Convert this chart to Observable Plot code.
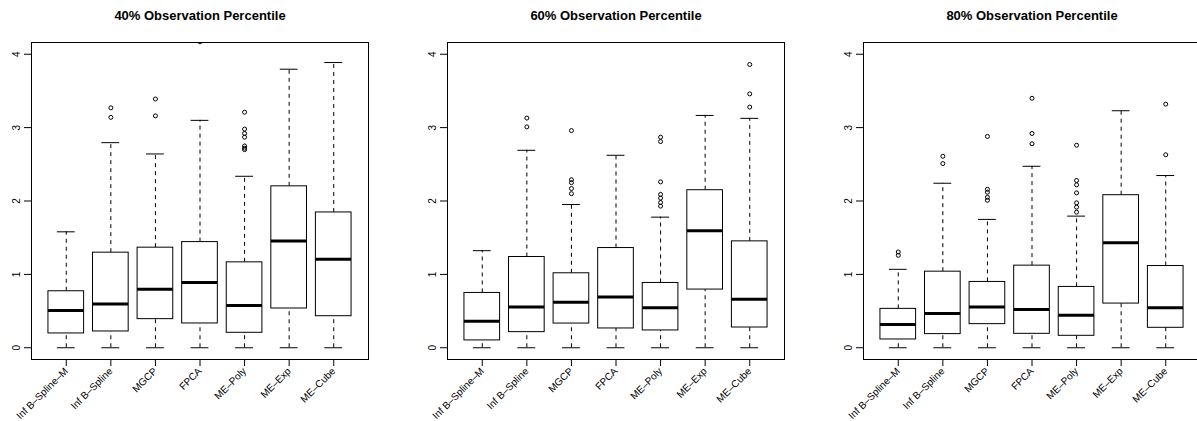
<!DOCTYPE html>
<html>
<head>
<meta charset="utf-8">
<script src="https://cdn.jsdelivr.net/npm/d3@7"></script>
<script src="https://cdn.jsdelivr.net/npm/@observablehq/plot@0.6"></script>
<style>
  html, body { margin: 0; padding: 0; background: #fff; }
  #row { width: 1197px; height: 421px; overflow: hidden; display: flex; flex-wrap: nowrap; }
  #row svg { flex: 0 0 auto; }
</style>
</head>
<body>
<div id="row"></div>
<script>
// Methods compared in every panel
const methods = ["Inf B–Spline–M", "Inf B–Spline", "MGCP", "FPCA", "ME–Poly", "ME–Exp", "ME–Cube"];
const yTicks = [0, 1, 2, 3, 4];

// 40% observation percentile: five-number summaries and outliers
const p40Title = "40% Observation Percentile";
const p40Low = [0, 0, 0, 0, 0, 0, 0];
const p40Q1 = [0.195, 0.222, 0.39, 0.331, 0.204, 0.535, 0.43];
const p40Median = [0.507, 0.598, 0.797, 0.888, 0.575, 1.454, 1.205];
const p40Q3 = [0.77, 1.296, 1.364, 1.44, 1.164, 2.2, 1.844];
const p40High = [1.58, 2.795, 2.641, 3.099, 2.337, 3.796, 3.887];
const p40Out = [[], [3.27, 3.14], [3.39, 3.16], [4.17], [3.21, 2.98, 2.92, 2.87, 2.75, 2.72, 2.70], [], []];

// 60% observation percentile
const p60Title = "60% Observation Percentile";
const p60Low = [0, 0, 0, 0, 0, 0, 0];
const p60Q1 = [0.10, 0.213, 0.33, 0.263, 0.236, 0.793, 0.276];
const p60Median = [0.362, 0.557, 0.62, 0.693, 0.544, 1.595, 0.661];
const p60Q3 = [0.747, 1.237, 1.015, 1.359, 0.883, 2.147, 1.45];
const p60High = [1.323, 2.691, 1.952, 2.623, 1.78, 3.166, 3.126];
const p60Out = [[], [3.13, 3.01], [2.96, 2.29, 2.25, 2.17, 2.10], [], [2.87, 2.81, 2.26, 2.09, 2.04, 1.98, 1.93], [], [3.86, 3.46, 3.28]];

// 80% observation percentile
const p80Title = "80% Observation Percentile";
const p80Low = [0, 0, 0, 0, 0, 0, 0];
const p80Q1 = [0.113, 0.186, 0.322, 0.19, 0.163, 0.602, 0.272];
const p80Median = [0.317, 0.467, 0.557, 0.521, 0.444, 1.431, 0.544];
const p80Q3 = [0.53, 1.037, 0.897, 1.119, 0.829, 2.079, 1.114];
const p80High = [1.069, 2.242, 1.749, 2.473, 1.794, 3.23, 2.347];
const p80Out = [[1.305, 1.26], [2.61, 2.51], [2.88, 2.16, 2.12, 2.05, 2.01], [3.40, 2.92, 2.78], [2.76, 2.28, 2.22, 2.11, 1.975, 1.916, 1.848], [], [3.32, 2.63]];

const panels = [
  {title: p40Title, low: p40Low, q1: p40Q1, median: p40Median, q3: p40Q3, high: p40High, out: p40Out},
  {title: p60Title, low: p60Low, q1: p60Q1, median: p60Median, q3: p60Q3, high: p60High, out: p60Out},
  {title: p80Title, low: p80Low, q1: p80Q1, median: p80Median, q3: p80Q3, high: p80High, out: p80Out}
];

const boxHalf = 0.4;    // half box width, in category units
const capHalf = 0.2;    // half whisker-cap width

function boxPanel(p) {
  const boxes = methods.map((m, i) => ({
    pos: i + 1, low: p.low[i], q1: p.q1[i], median: p.median[i], q3: p.q3[i], high: p.high[i]
  }));
  const outliers = p.out.flatMap((vals, i) => vals.map(v => ({pos: i + 1, value: v})));
  return Plot.plot({
    width: 416,
    height: 421,
    marginLeft: 31,
    marginRight: 48,
    marginTop: 42,
    marginBottom: 62,
    style: {fontFamily: "'Liberation Sans', Arial, sans-serif", fontSize: "10px", background: "#fff", color: "#000"},
    x: {domain: [0.22, 7.78], axis: null},
    y: {domain: [-0.16, 4.16], axis: null},
    marks: [
      // upper and lower dashed whiskers
      Plot.ruleX(boxes, {x: "pos", y1: "q3", y2: "high", stroke: "#000", strokeDasharray: "4,4"}),
      Plot.ruleX(boxes, {x: "pos", y1: "low", y2: "q1", stroke: "#000", strokeDasharray: "4,4"}),
      // whisker caps
      Plot.ruleY(boxes, {y: "high", x1: d => d.pos - capHalf, x2: d => d.pos + capHalf, stroke: "#000"}),
      Plot.ruleY(boxes, {y: "low", x1: d => d.pos - capHalf, x2: d => d.pos + capHalf, stroke: "#000"}),
      // interquartile boxes
      Plot.rect(boxes, {x1: d => d.pos - boxHalf, x2: d => d.pos + boxHalf, y1: "q1", y2: "q3", fill: "#fff", stroke: "#000"}),
      // medians
      Plot.ruleY(boxes, {y: "median", x1: d => d.pos - boxHalf, x2: d => d.pos + boxHalf, stroke: "#000", strokeWidth: 3}),
      // outliers
      Plot.dot(outliers, {x: "pos", y: "value", r: 2, stroke: "#000", fill: "none", strokeWidth: 1, clip: true}),
      Plot.frame({stroke: "#000"}),
      Plot.axisY({ticks: yTicks, label: null, tickSize: 7, tickRotate: -90, tickPadding: 5, tickFormat: d => String(d)}),
      Plot.axisX({ticks: methods.map((m, i) => i + 1), label: null, tickSize: 7, tickPadding: 3, tickRotate: -45,
        textAnchor: "end", lineAnchor: "middle", tickFormat: d => methods[d - 1]}),
      Plot.text([p.title], {frameAnchor: "top", dy: -27, text: d => d, fontWeight: "bold", fontSize: 13, lineAnchor: "middle"})
    ]
  });
}

const row = document.getElementById("row");
for (const p of panels) row.appendChild(boxPanel(p));
</script>
</body>
</html>
